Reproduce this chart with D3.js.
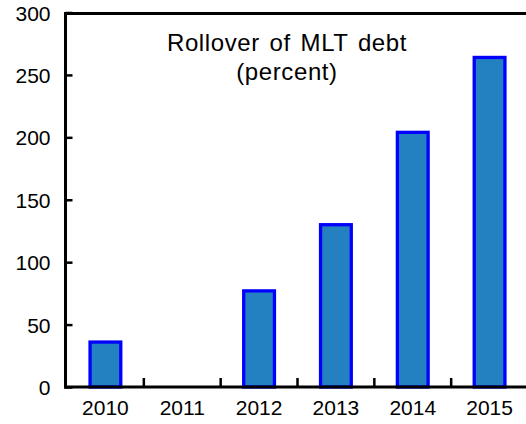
<!DOCTYPE html>
<html>
<head>
    <script src="https://d3js.org/d3.v7.min.js"></script>
    <style>
        body { margin: 0; background: #fff; }
        text { font-family: "Liberation Sans", Arial, sans-serif; fill: #000; }
        .axis path { display: none; }
        .axis text { font-size: 21px; }
    </style>
</head>
<body>
    <svg id="chart"></svg>

    <script>
        // data
        var years = ["2010", "2011", "2012", "2013", "2014", "2015"];
        var rollover = [36, null, 77, 130, 204, 264];
        var yTicks = [0, 50, 100, 150, 200, 250, 300];
        var titleLines = ["Rollover of MLT debt", "(percent)"];

        var width = 526, height = 424;

        var svg = d3.select("#chart")
            .attr("width", width)
            .attr("height", height);

        var x = d3.scaleBand().domain(years).range([67, 528]).padding(0);
        var y = d3.scaleLinear().domain([0, 300]).range([387, 12.5]);

        var data = years.map(function(d, i) { return {year: d, value: rollover[i]}; })
            .filter(function(d) { return d.value != null; });

        // bars
        var barW = x.bandwidth() * 0.4;
        svg.selectAll(".bar")
            .data(data)
            .enter().append("rect")
            .attr("class", "bar")
            .attr("x", function(d) { return x(d.year) + x.bandwidth() / 2 - barW / 2; })
            .attr("y", function(d) { return y(d.value); })
            .attr("width", barW)
            .attr("height", function(d) { return y(0) - y(d.value); })
            .attr("fill", "#2381c1")
            .attr("stroke", "#0000ff")
            .attr("stroke-width", 3.3);

        // y axis, ticks pointing inward
        var yAxis = svg.append("g")
            .attr("class", "axis")
            .attr("transform", "translate(65.5,0)")
            .call(d3.axisLeft(y).tickValues(yTicks).tickSize(-7).tickPadding(15));
        yAxis.selectAll("line").attr("stroke", "#000").attr("stroke-width", 2.5);
        yAxis.selectAll("text").attr("dy", "0.36em");

        // x axis labels
        var xAxis = svg.append("g")
            .attr("class", "axis")
            .attr("transform", "translate(0,387)")
            .call(d3.axisBottom(x).tickSize(0).tickPadding(13));
        xAxis.selectAll("text").attr("dy", "0.71em");

        // x ticks at category boundaries, pointing up
        svg.selectAll(".xtick")
            .data(years.slice(1))
            .enter().append("line")
            .attr("class", "xtick")
            .attr("x1", function(d) { return x(d); })
            .attr("x2", function(d) { return x(d); })
            .attr("y1", y(0))
            .attr("y2", y(0) - 9)
            .attr("stroke", "#000")
            .attr("stroke-width", 2.5);

        // frame lines
        svg.append("line")
            .attr("x1", 64).attr("x2", width)
            .attr("y1", y(0)).attr("y2", y(0))
            .attr("stroke", "#000").attr("stroke-width", 3);
        svg.append("line")
            .attr("x1", 65.5).attr("x2", 65.5)
            .attr("y1", y(300)).attr("y2", y(0) + 1.5)
            .attr("stroke", "#000").attr("stroke-width", 3);
        svg.append("line")
            .attr("x1", 64).attr("x2", width)
            .attr("y1", y(300) + 1).attr("y2", y(300) + 1)
            .attr("stroke", "#000").attr("stroke-width", 3);

        // title inside the plot
        svg.selectAll(".title")
            .data(titleLines)
            .enter().append("text")
            .attr("class", "title")
            .attr("x", 287)
            .attr("y", function(d, i) { return 51 + i * 29; })
            .attr("text-anchor", "middle")
            .style("font-size", "24px")
            .style("letter-spacing", "0.6px")
            .style("word-spacing", "2.5px")
            .text(function(d) { return d; });
    </script>
</body>
</html>
